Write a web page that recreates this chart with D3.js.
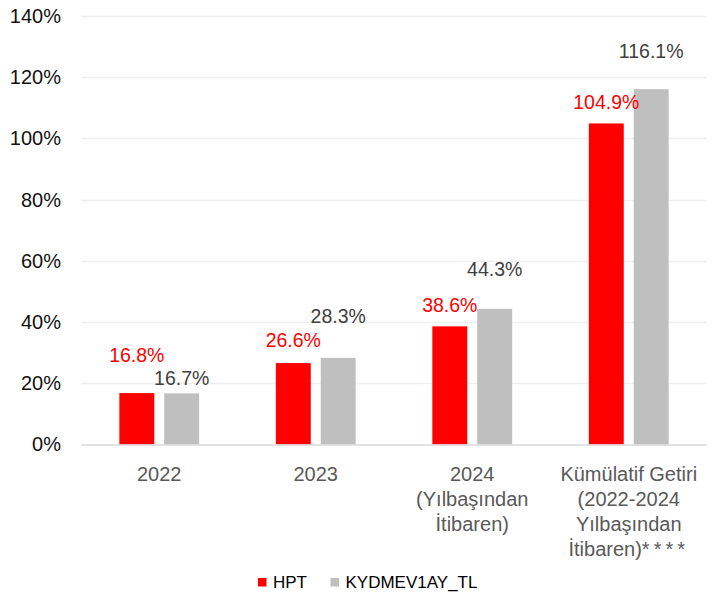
<!DOCTYPE html>
<html>
<head>
<meta charset="utf-8">
<script src="https://cdn.jsdelivr.net/npm/d3@7"></script>
<style>
  body { margin: 0; background: #fff; }
  text { font-family: "Liberation Sans", Arial, sans-serif; }
</style>
</head>
<body>
<div id="container"></div>
<script>
/* CONSTANTS AND GLOBALS */
const width = 714,
  height = 594,
  margin = { top: 16, bottom: 149.5, left: 81, right: 7 };

// DATA
const categories = [
  ["2022"],
  ["2023"],
  ["2024", "(Yılbaşından", "İtibaren)"],
  ["Kümülatif Getiri", "(2022-2024", "Yılbaşından", "İtibaren)****"]
];
const seriesNames = ["HPT", "KYDMEV1AY_TL"];
const hptValues = [16.8, 26.6, 38.6, 104.9];
const kydValues = [16.7, 28.3, 44.3, 116.1];
const yTicks = [0, 20, 40, 60, 80, 100, 120, 140];

// label lift above bar top (px), as the original places them
const hptLift = [31, 16, 14, 14];
const kydLift = [8, 35, 33, 31];

const colors = ["#ff0000", "#bfbfbf"];
const labelColors = ["#ff0000", "#404040"];

// APPEND SVG
const svg = d3.select("#container")
  .append("svg")
  .attr("width", width)
  .attr("height", height);

// SCALES
const x0 = d3.scaleBand()
  .domain(d3.range(categories.length))
  .range([margin.left, width - margin.right])
  .paddingInner(0.49)
  .paddingOuter(0.245);

const x1 = d3.scaleBand()
  .domain(d3.range(seriesNames.length))
  .range([0, x0.bandwidth()])
  .paddingInner(0.222);

const y = d3.scaleLinear()
  .domain([0, 140])
  .range([height - margin.bottom, margin.top]);

// GRIDLINES
svg.append("g")
  .selectAll("line")
  .data(yTicks.filter(d => d > 0))
  .join("line")
  .attr("x1", margin.left)
  .attr("x2", width - margin.right)
  .attr("y1", d => Math.round(y(d)) + 0.5)
  .attr("y2", d => Math.round(y(d)) + 0.5)
  .attr("stroke", "#efefef")
  .attr("stroke-width", 1.3);

// Y AXIS LABELS
const yAxis = d3.axisLeft(y)
  .tickValues(yTicks)
  .tickFormat(d => d + "%")
  .tickSize(0)
  .tickPadding(20);

svg.append("g")
  .attr("transform", `translate(${margin.left},0)`)
  .call(yAxis)
  .call(g => g.select(".domain").remove())
  .call(g => g.selectAll("text")
    .attr("font-size", 20)
    .attr("fill", "#111")
    .style("font-family", "'Liberation Sans', Arial, sans-serif"));

// BARS
const rows = categories.map((c, i) => [hptValues[i], kydValues[i]]);
const lifts = [hptLift, kydLift];

const groups = svg.selectAll("g.cat")
  .data(rows)
  .join("g")
  .attr("class", "cat")
  .attr("transform", (d, i) => `translate(${x0(i)},0)`);

groups.selectAll("rect")
  .data(d => d)
  .join("rect")
  .attr("x", (d, j) => x1(j))
  .attr("y", d => y(d))
  .attr("width", x1.bandwidth())
  .attr("height", d => y(0) - y(d))
  .attr("fill", (d, j) => colors[j]);

groups.each(function (d, i) {
  d3.select(this).selectAll("text.val")
    .data(d)
    .join("text")
    .attr("class", "val")
    .attr("x", (v, j) => x1(j) + x1.bandwidth() / 2)
    .attr("y", (v, j) => y(v) - lifts[j][i])
    .attr("text-anchor", "middle")
    .attr("font-size", 19.5)
    .attr("fill", (v, j) => labelColors[j])
    .text(v => v.toFixed(1) + "%");
});

// X AXIS LINE
svg.append("line")
  .attr("x1", margin.left)
  .attr("x2", width - margin.right)
  .attr("y1", y(0) + 0.5)
  .attr("y2", y(0) + 0.5)
  .attr("stroke", "#d9d9d9")
  .attr("stroke-width", 1.5);

// CATEGORY LABELS
categories.forEach((lines, i) => {
  const cx = x0(i) + x0.bandwidth() / 2;
  const t = svg.append("text")
    .attr("x", cx)
    .attr("y", y(0) + 36)
    .attr("text-anchor", "middle")
    .attr("font-size", 20)
    .attr("fill", "#595959");
  lines.forEach((l, k) => {
    const stars = l.match(/\*+$/);
    const line = t.append("tspan")
      .attr("x", cx)
      .attr("dy", k === 0 ? 0 : 25)
      .text(stars ? l.slice(0, stars.index) : l);
    if (stars) {
      // the asterisks are spread wider in the original
      t.append("tspan")
        .attr("letter-spacing", 4)
        .text(stars[0]);
    }
  });
});

// LEGEND
const legend = svg.append("g")
  .attr("class", "legend")
  .attr("transform", "translate(258, 582)");

const legendX = [0, 72.5];
seriesNames.forEach((name, j) => {
  legend.append("rect")
    .attr("x", legendX[j])
    .attr("y", -4)
    .attr("width", 8.5)
    .attr("height", 8.5)
    .attr("fill", colors[j]);
  legend.append("text")
    .attr("x", legendX[j] + 15)
    .attr("y", 6)
    .attr("font-size", 17)
    .attr("fill", "#000")
    .text(name);
});
</script>
</body>
</html>
